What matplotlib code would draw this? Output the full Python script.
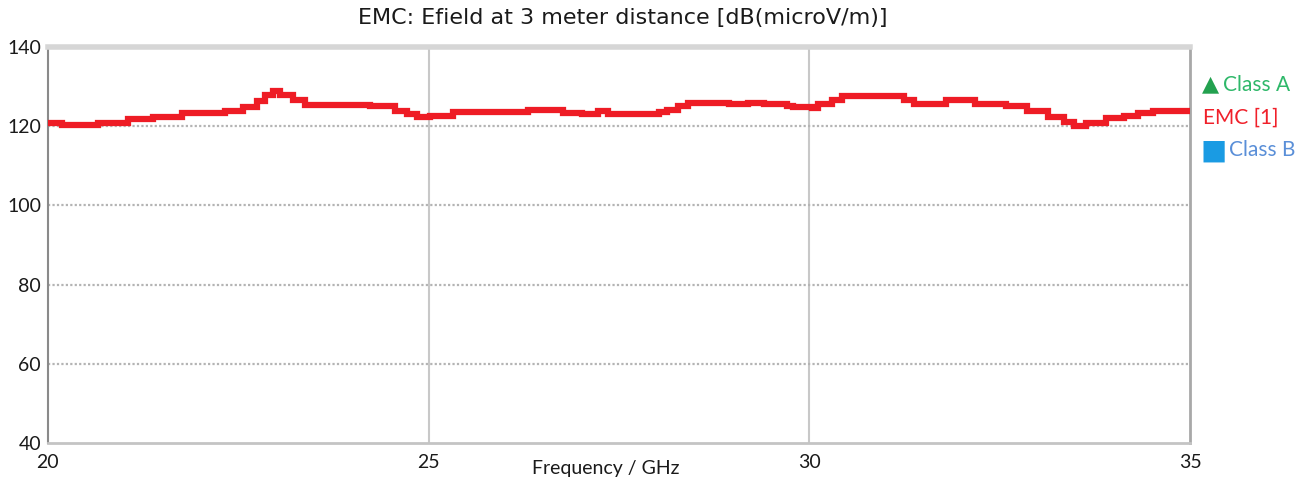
import matplotlib
matplotlib.use('Agg')
import matplotlib.pyplot as plt

# Stepped E-field trace: left edge of each step (GHz) and its level (dBuV/m)
freq_ghz = [20.00, 20.18, 20.66, 21.05, 21.38, 21.76, 22.33, 22.56, 22.75,
            22.85, 22.96, 23.05, 23.22, 23.38, 24.23, 24.56, 24.72, 24.85,
            25.02, 25.32, 26.31, 26.77, 27.02, 27.23, 27.35, 28.02, 28.13,
            28.28, 28.41, 28.94, 29.19, 29.40, 29.71, 29.78, 30.04, 30.12,
            30.30, 30.43, 31.09, 31.24, 31.37, 31.79, 32.18, 32.58, 32.86,
            33.13, 33.34, 33.47, 33.63, 33.90, 34.13, 34.32, 34.51, 35.00]
efield_db = [120.7, 120.3, 120.7, 121.8, 122.4, 123.4, 123.9, 124.9, 126.4,
             127.9, 128.9, 127.9, 126.6, 125.4, 125.1, 123.9, 123.2, 122.2,
             122.6, 123.5, 124.1, 123.4, 123.2, 123.8, 123.2, 123.6, 124.1,
             125.2, 125.8, 125.5, 125.9, 125.6, 125.1, 124.8, 124.6, 125.6,
             126.6, 127.6, 127.5, 126.6, 125.6, 126.6, 125.6, 125.1, 123.9,
             122.4, 121.1, 120.0, 120.9, 122.0, 122.6, 123.4, 123.9, 123.9]

x_ticks = [20, 25, 30, 35]
y_ticks = [40, 60, 80, 100, 120, 140]

FONT = ['Lato', 'DejaVu Sans']

fig = plt.figure(figsize=(13.1, 4.86), dpi=100)
ax = fig.add_axes([0.0366, 0.0885, 0.8718, 0.8148])

ax.step(freq_ghz, efield_db, where='post', color='#ee1c25', lw=4.5,
        solid_joinstyle='miter', zorder=3)

ax.set_xlim(20, 35)
ax.set_ylim(40, 140)
ax.set_xticks(x_ticks)
ax.set_yticks(y_ticks)
ax.tick_params(length=0, labelsize=14, colors='#1a1a1a')
ax.tick_params(axis='x', pad=8)
ax.tick_params(axis='y', pad=5)
for lbl in ax.get_xticklabels() + ax.get_yticklabels():
    lbl.set_family(FONT)

# grid: solid verticals, dotted horizontals
for xv in [25, 30]:
    ax.axvline(xv, color='#c8c8c8', lw=1.5, zorder=1)
for yv in [60, 80, 100, 120]:
    ax.axhline(yv, color='#b4b4b4', lw=1.6, ls=(0, (1, 1)), zorder=1)

ax.spines['left'].set_color('#8a8a8a')
ax.spines['left'].set_linewidth(1.5)
ax.spines['bottom'].set_color('#c4c4c4')
ax.spines['bottom'].set_linewidth(2)
ax.spines['top'].set_color('#d6d6d6')
ax.spines['top'].set_linewidth(4)
ax.spines['right'].set_color('#a8a8a8')
ax.spines['right'].set_linewidth(2)

ax.set_xlabel('Frequency / GHz', fontsize=14, family=FONT, color='#1a1a1a')
ax.xaxis.set_label_coords(0.488, -0.065)
ax.xaxis.label.set_va('center')

fig.text(0.475, 0.962, 'EMC: Efield at 3 meter distance [dB(microV/m)]',
         ha='center', va='center', fontsize=16, family='DejaVu Sans',
         color='#1a1a1a')

# legend entries on the right
fig.text(0.9175, 0.826, '\u25b2', fontsize=16, family='DejaVu Sans',
         color='#23a14f', va='center', ha='left')
fig.text(0.9335, 0.826, 'Class A', fontsize=15, family=FONT,
         color='#2fb86a', va='center', ha='left')
fig.text(0.9185, 0.757, 'EMC [1]', fontsize=15, family=FONT,
         color='#f0202a', va='center', ha='left')
fig.text(0.9165, 0.691, '\u25a0', fontsize=20, family='DejaVu Sans',
         color='#1a9be3', va='center', ha='left')
fig.text(0.9385, 0.691, 'Class B', fontsize=15, family=FONT,
         color='#5a8fd8', va='center', ha='left')

fig.savefig('out.png', dpi=100)
